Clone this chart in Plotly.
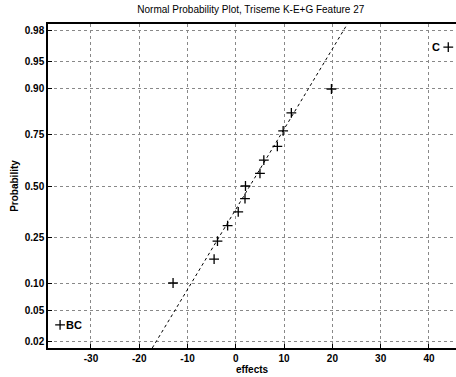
import plotly.graph_objects as go
from statistics import NormalDist

# ---- data ----
effects = [-36.4, -13.0, -4.5, -3.8, -1.7, 0.5, 1.9, 2.0, 5.0, 5.8, 8.6, 9.8, 11.5, 19.8, 44.0]
probs = [0.0333, 0.1, 0.1667, 0.2333, 0.3, 0.3667, 0.4333, 0.5, 0.5667, 0.6333, 0.7, 0.7667, 0.8333, 0.9, 0.9667]
labels = {0: ("BC", "right"), 14: ("C", "left")}

# reference (fit) line endpoints
line_effects = [-17.3, 23.1]
line_probs = [0.0162, 0.9838]

prob_ticks = [0.02, 0.05, 0.10, 0.25, 0.50, 0.75, 0.90, 0.95, 0.98]
prob_ticktext = ["0.02", "0.05", "0.10", "0.25", "0.50", "0.75", "0.90", "0.95", "0.98"]
x_ticks = [-30, -20, -10, 0, 10, 20, 30, 40]
x_ticktext = ["-30", "-20", "-10", "0", "10", "20", "30", "40"]

title = "Normal Probability Plot, Triseme K-E+G Feature 27"

nd = NormalDist()
probit = lambda p: nd.inv_cdf(p)

font = dict(family="Liberation Sans, Arial, sans-serif", color="black")
bold = dict(weight="bold", **font)

fig = go.Figure()
fig.add_trace(go.Scatter(
    x=line_effects, y=[probit(p) for p in line_probs], mode="lines",
    line=dict(color="black", width=1, dash="3px,3px"), hoverinfo="skip", showlegend=False))
fig.add_trace(go.Scatter(
    x=effects, y=[probit(p) for p in probs], mode="markers",
    marker=dict(symbol="cross-thin", size=7, line=dict(color="black", width=1.3), color="black"),
    showlegend=False))

for i, (txt, side) in labels.items():
    fig.add_annotation(x=effects[i], y=probit(probs[i]), text=txt, showarrow=False,
                       xanchor="left" if side == "right" else "right",
                       xshift=4 if side == "right" else -6,
                       font=dict(size=11, **bold))

fig.update_layout(
    width=456, height=377,
    margin=dict(l=48, r=0, t=24, b=29),
    paper_bgcolor="white", plot_bgcolor="white",
    title=dict(text=title, x=0.55, xanchor="center", y=0.985, yanchor="top",
               font=dict(size=10, **font)),
    font=dict(size=10, **font),
)
fig.update_xaxes(
    range=[-38.9, 45.6], tickvals=x_ticks, ticktext=x_ticktext,
    ticks="inside", ticklen=4, tickcolor="black",
    showline=True, linecolor="black", linewidth=1.5, mirror=True,
    showgrid=True, gridcolor="#888", griddash="dot", gridwidth=1, zeroline=False,
    title=dict(text="effects", standoff=1, font=dict(size=10, **bold)),
    tickfont=dict(size=10, **bold),
)
fig.update_yaxes(
    range=[-2.14, 2.14], tickvals=[probit(p) for p in prob_ticks], ticktext=prob_ticktext,
    ticks="inside", ticklen=4, tickcolor="black",
    showline=True, linecolor="black", linewidth=1.5, mirror=False,
    showgrid=True, gridcolor="#888", griddash="dot", gridwidth=1, zeroline=False,
    title=dict(text="Probability", standoff=4, font=dict(size=10, **bold)),
    tickfont=dict(size=10, **bold),
)

fig.write_html("out.html", config={"displayModeBar": False},
               post_script="document.body.style.margin='0';")
